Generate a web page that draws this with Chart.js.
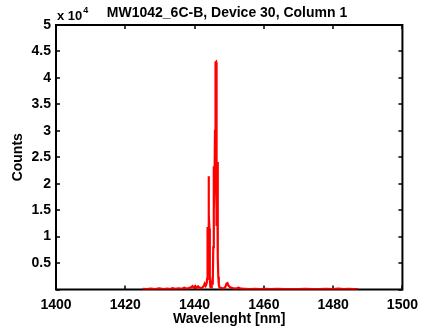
<!DOCTYPE html>
<html>
<head>
<meta charset="utf-8">
<script src="https://cdn.jsdelivr.net/npm/chart.js@4/dist/chart.umd.min.js"></script>
<style>
  html, body { margin: 0; padding: 0; background: #fff; }
  #wrap { width: 425px; height: 329px; }
</style>
</head>
<body>
<div id="wrap"><canvas id="specChart" width="425" height="329"></canvas></div>
<script>
// spectrum data
const wavelength = [
  1425.0, 1426.2, 1427.4, 1428.6, 1429.8, 1431.0, 1432.2, 1433.0, 1433.6, 1434.4,
  1435.4, 1436.4, 1437.0, 1437.6, 1438.4, 1439.0, 1439.4, 1439.8, 1440.2, 1440.6,
  1441.0, 1441.4, 1441.8, 1442.2, 1442.6, 1442.9, 1443.2, 1443.5, 1443.6, 1443.7,
  1443.8, 1443.95, 1444.05, 1444.15, 1444.3, 1444.4, 1444.55, 1444.75, 1444.95, 1445.1,
  1445.2, 1445.3, 1445.4, 1445.5, 1445.6, 1445.75, 1445.9, 1446.05, 1446.2, 1446.3,
  1446.4, 1446.55, 1446.65, 1446.75, 1446.85, 1447.0, 1447.2, 1447.6, 1448.1, 1448.5,
  1448.9, 1449.2, 1449.5, 1449.8, 1450.2, 1450.7, 1451.3, 1452.0, 1452.7, 1453.4,
  1454.5, 1456.0, 1457.5, 1459.0, 1460.5, 1462.0, 1464.0, 1466.0, 1468.0, 1470.0,
  1472.0, 1474.0, 1476.0, 1478.0, 1480.0, 1481.5, 1483.0, 1484.5, 1486.0, 1487.2
];
const counts = [
  120, 60, 180, 90, 210, 80, 150, 100, 260, 110,
  230, 140, 320, 180, 260, 420, 650, 300, 650, 250,
  600, 380, 200, 350, 600, 1100, 700, 1200, 2000, 11800,
  3000, 9000, 21400, 14000, 11500, 2000, 500, 400, 800, 1600,
  2300, 900, 8000, 23300, 15000, 20000, 30000, 42900, 43000, 26000,
  12000, 20000, 24100, 6000, 2400, 900, 400, 300, 200, 250,
  500, 1100, 1200, 700, 450, 300, 200, 180, 350, 150,
  120, 90, 140, 80, 110, 70, 100, 60, 90, 70,
  100, 60, 80, 110, 70, 150, 90, 140, 80, 60
];

const titleText = 'MW1042_6C-B, Device 30, Column 1';
const xLabel = 'Wavelenght [nm]';
const yLabel = 'Counts';

const FONT = "'Liberation Sans', Arial, sans-serif";

// box + inward ticks + "x 10^4" + title (matlab style)
const matlabAxes = {
  id: 'matlabAxes',
  beforeDatasetsDraw(chart) {
    const { ctx, chartArea: a, scales } = chart;
    ctx.save();
    ctx.strokeStyle = '#000';
    ctx.lineWidth = 2;
    ctx.strokeRect(a.left, a.top, a.right - a.left, a.bottom - a.top);
    ctx.lineWidth = 1.5;
    ctx.beginPath();
    scales.x.ticks.forEach(t => {
      const px = Math.round(scales.x.getPixelForValue(t.value));
      ctx.moveTo(px, a.bottom); ctx.lineTo(px, a.bottom - 4);
      ctx.moveTo(px, a.top); ctx.lineTo(px, a.top + 4);
    });
    scales.y.ticks.forEach(t => {
      const py = Math.round(scales.y.getPixelForValue(t.value));
      ctx.moveTo(a.left, py); ctx.lineTo(a.left + 4, py);
      ctx.moveTo(a.right, py); ctx.lineTo(a.right - 4, py);
    });
    ctx.stroke();
    ctx.restore();
  },
  afterDraw(chart) {
    const { ctx, chartArea: a } = chart;
    ctx.save();
    ctx.fillStyle = '#000';
    ctx.textBaseline = 'alphabetic';
    ctx.font = 'bold 13px ' + FONT;
    ctx.textAlign = 'left';
    ctx.fillText('x 10', a.left + 1, a.top - 5);
    const w = ctx.measureText('x 10').width;
    ctx.font = 'bold 9px ' + FONT;
    ctx.fillText('4', a.left + 2 + w, a.top - 12);
    ctx.font = 'bold 14px ' + FONT;
    ctx.textAlign = 'center';
    ctx.fillText(titleText, 227, 17);
    ctx.restore();
  }
};

const ctx = document.getElementById('specChart').getContext('2d');
new Chart(ctx, {
  type: 'line',
  data: {
    datasets: [{
      data: wavelength.map((w, i) => ({ x: w, y: counts[i] })),
      borderColor: '#ff0000',
      borderWidth: 2.2,
      pointRadius: 0,
      tension: 0,
      fill: false
    }]
  },
  options: {
    responsive: false,
    animation: false,
    layout: { padding: { top: 25, right: 17.5, left: 0, bottom: 0 } },
    plugins: { legend: { display: false }, title: { display: false }, tooltip: { enabled: false } },
    scales: {
      x: {
        type: 'linear', min: 1400, max: 1500,
        grid: { display: false, drawTicks: false },
        border: { display: false },
        ticks: { stepSize: 20, color: '#000', padding: 7, maxRotation: 0,
                 font: { family: FONT, size: 14, weight: 'bold' },
                 callback: v => String(v) },
        title: { display: true, text: xLabel, color: '#000', padding: { top: 0, bottom: 1 },
                 font: { family: FONT, size: 14, weight: 'bold' } },
        afterFit(s) { s.height = 39.5; }
      },
      y: {
        min: 0, max: 50000,
        grid: { display: false, drawTicks: false },
        border: { display: false },
        ticks: { stepSize: 5000, color: '#000', padding: 5,
                 font: { family: FONT, size: 14, weight: 'bold' },
                 callback: v => v === 0 ? '' : String(v / 10000) },
        title: { display: true, text: yLabel, color: '#000', padding: { top: 10, bottom: 0 },
                 font: { family: FONT, size: 14, weight: 'bold' } },
        afterFit(s) { s.width = 56; }
      }
    }
  },
  plugins: [matlabAxes]
});
</script>
</body>
</html>
